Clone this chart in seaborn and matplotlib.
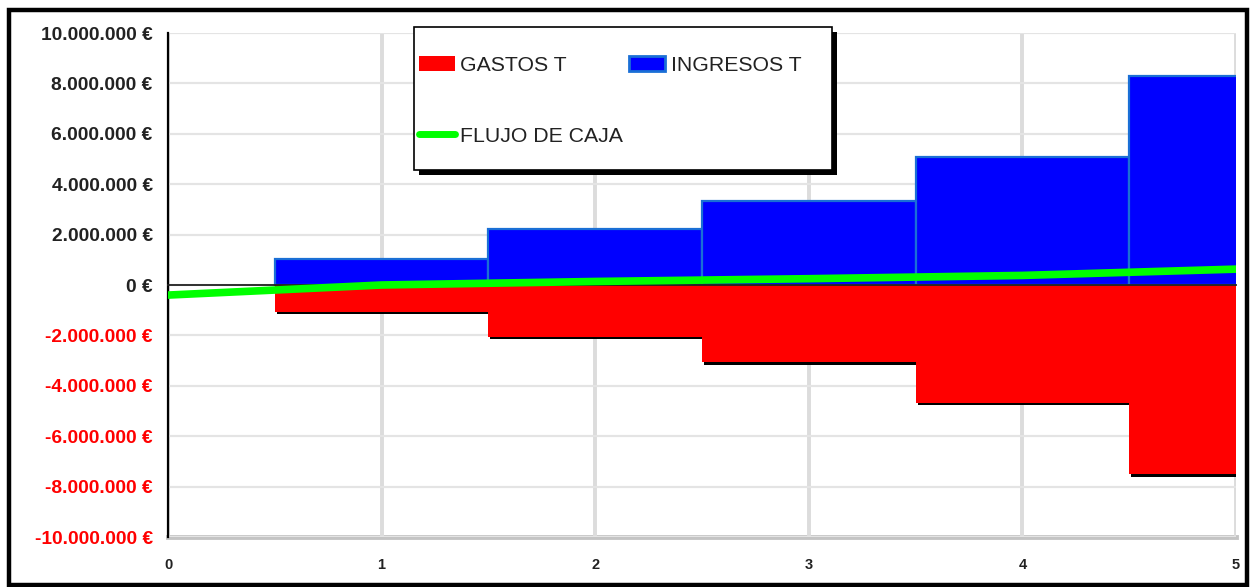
import matplotlib
matplotlib.use("Agg")
import matplotlib.pyplot as plt
import seaborn as sns
import numpy as np
from matplotlib.patches import Rectangle, Patch
from matplotlib.lines import Line2D
from matplotlib.ticker import FuncFormatter
import matplotlib.patheffects as pe

# ---- data ----
years = [1, 2, 3, 4, 5]
ingresos = [1050000, 2220000, 3330000, 5080000, 8280000]
gastos = [-1070000, -2060000, -3060000, -4680000, -7500000]
flujo_x = [0, 1, 2, 3, 4, 5]
flujo_y = [-400000, 0, 140000, 250000, 380000, 630000]
x_ticks = [0, 1, 2, 3, 4, 5]
y_ticks = [-10000000, -8000000, -6000000, -4000000, -2000000, 0,
           2000000, 4000000, 6000000, 8000000, 10000000]
labels = ["GASTOS T", "INGRESOS T", "FLUJO DE CAJA"]

sns.set_style("white")
plt.rcParams["font.family"] = ["Liberation Sans", "DejaVu Sans"]

fig = plt.figure(figsize=(12.5, 5.87), dpi=100)
ax = fig.add_axes([168/1250, 1-537/587, (1236-168)/1250, (537-33)/587])

sns.barplot(x=years, y=ingresos, native_scale=True, width=1.0, color="#0000ff",
            saturation=1, edgecolor="#1a6fd6", linewidth=1.6, ax=ax)
sns.barplot(x=years, y=gastos, native_scale=True, width=1.0, color="#ff0000",
            saturation=1, linewidth=0, ax=ax)
for bar in ax.containers[1]:
    bar.set_path_effects([pe.SimplePatchShadow(offset=(1.5, -1.8), shadow_rgbFace="black", alpha=1.0),
                          pe.Normal()])

sns.lineplot(x=flujo_x, y=flujo_y, color="#00ff00", linewidth=5.5, ax=ax, zorder=4)

ax.set_xlim(0, 5)
ax.set_ylim(-10000000, 10000000)
ax.set_xticks(x_ticks)
ax.set_yticks(y_ticks)
ax.set_xlabel("")
ax.set_ylabel("")

def fmt(v, pos=None):
    return f"{v:,.0f} €".replace(",", ".")

ax.yaxis.set_major_formatter(FuncFormatter(fmt))

ax.set_axisbelow(True)
ax.xaxis.grid(True, color="#dcdcdc", linewidth=2.8)
ax.yaxis.grid(True, color="#e4e4e4", linewidth=1.6)

for s in ["top", "right"]:
    ax.spines[s].set_visible(False)
ax.spines["left"].set_color("black")
ax.spines["left"].set_linewidth(1.6)
ax.spines["bottom"].set_position(("data", 0))
ax.spines["bottom"].set_color("#222222")
ax.spines["bottom"].set_linewidth(1.3)
ax.spines["bottom"].set_zorder(3)

ax.tick_params(axis="x", direction="inout", length=8, width=1.3, color="#111111",
               labelbottom=False)
ax.tick_params(axis="y", direction="out", length=5, width=1.3, color="black",
               labelsize=13.8, pad=6)
for t, v in zip(ax.get_yticklabels(), y_ticks):
    t.set_fontweight("bold")
    t.set_color("#ff0000" if v < 0 else "#222222")

sec = ax.secondary_xaxis("bottom")
sec.set_xticks(x_ticks)
sec.tick_params(length=0, pad=15, labelsize=10.5)
sec.spines["bottom"].set_color("#c4c4c4")
sec.spines["bottom"].set_linewidth(3.5)
for t in sec.get_xticklabels():
    t.set_fontweight("bold")
    t.set_color("#222222")

# legend box with shadow
box = Rectangle((414/1250, 1-170/587), 418/1250, 143/587, transform=fig.transFigure,
                facecolor="white", edgecolor="black", linewidth=1.2, zorder=5,
                path_effects=[pe.SimplePatchShadow(offset=(3.5, -3.5), shadow_rgbFace="black", alpha=1.0),
                              pe.Normal()])
fig.patches.append(box)

h_g = Patch(facecolor="#ff0000", edgecolor="#ff0000", linewidth=0)
h_i = Patch(facecolor="#0000ff", edgecolor="#1a6fd6", linewidth=2)
h_f = Line2D([0], [0], color="#00ff00", linewidth=5, solid_capstyle="round")
leg = fig.legend([h_g, h_f, h_i], [labels[0], labels[2], labels[1]], ncol=2,
                 loc="upper left", bbox_to_anchor=(408/1250, 1-45/587),
                 frameon=False, borderpad=0, fontsize=15.3, handlelength=1.7,
                 handleheight=0.72, handletextpad=0.25, columnspacing=0.3,
                 labelspacing=2.45)
leg.set_zorder(6)
for t in leg.get_texts():
    t.set_color("#222222")

# outer figure border
fig.patches.append(Rectangle((0.0072, 0.004), 0.9904, 0.9796, transform=fig.transFigure,
                             fill=False, edgecolor="black", linewidth=3.2, zorder=10))

fig.savefig("out.png", dpi=100)
